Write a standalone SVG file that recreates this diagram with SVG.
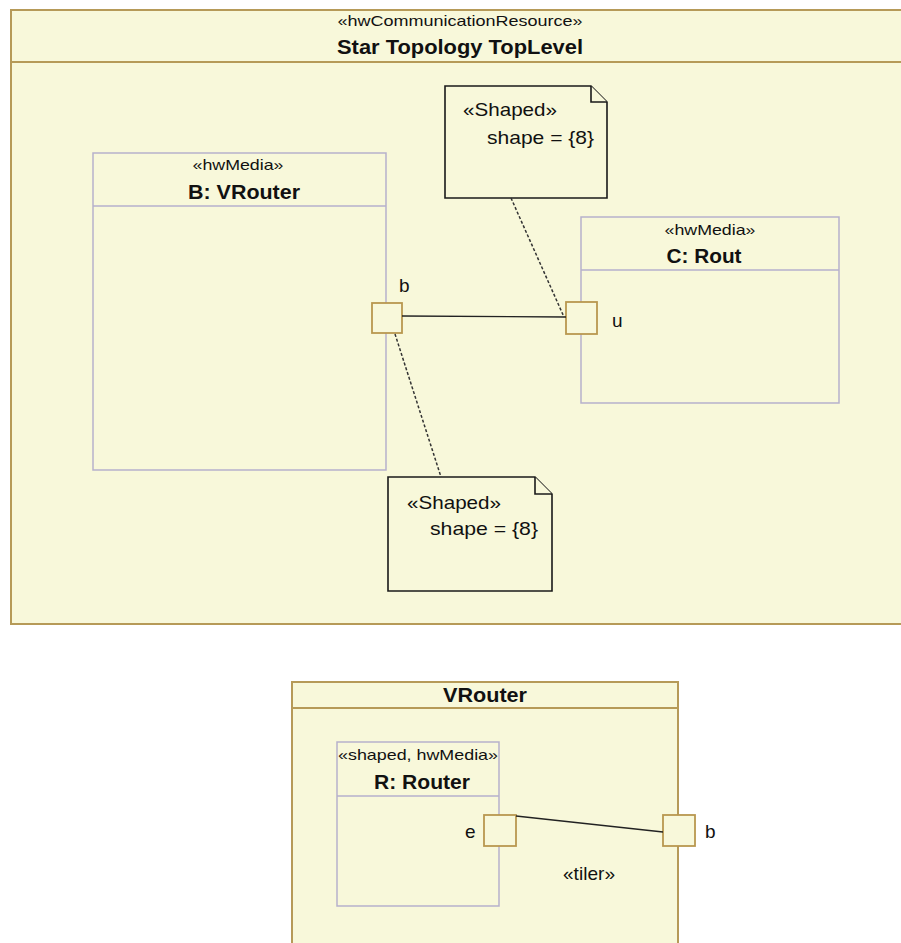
<svg xmlns="http://www.w3.org/2000/svg" width="901" height="943" viewBox="0 0 901 943">
<style>
text{font-family:"Liberation Sans",Arial,sans-serif;fill:#111;}
.st{font-size:15px;}
.tt{font-size:20px;font-weight:bold;}
.lb{font-size:19px;}
.frame{fill:#F8F8DA;stroke:#B69A58;stroke-width:2;}
.fline{stroke:#B69A58;stroke-width:2;}
.part{fill:#F8F8DA;stroke:#B6B1CC;stroke-width:1.5;}
.pline{stroke:#B6B1CC;stroke-width:1.5;}
.port{fill:#F8F8DA;stroke:#B8974F;stroke-width:1.8;}
.note{fill:#F8F8DA;stroke:#1a1a1a;stroke-width:1.6;}
.conn{stroke:#222;stroke-width:1.4;fill:none;}
.dash{stroke:#333;stroke-width:1.5;stroke-dasharray:3,2;fill:none;}
</style>
<rect width="901" height="943" fill="#fff"/>

<g id="topFrame">
<rect class="frame" x="11" y="10" width="900" height="614"/>
<line class="fline" x1="11" y1="62" x2="901" y2="62"/>
<text class="st" x="460" y="26" text-anchor="middle" font-size="16" textLength="245" lengthAdjust="spacingAndGlyphs">«hwCommunicationResource»</text>
<text class="tt" x="460" y="54" text-anchor="middle" textLength="246" lengthAdjust="spacingAndGlyphs">Star Topology TopLevel</text>
</g>

<g id="partB">
<rect class="part" x="93" y="153" width="293" height="317"/>
<line class="pline" x1="93" y1="206" x2="386" y2="206"/>
<text class="st" x="238" y="170" text-anchor="middle" textLength="91" lengthAdjust="spacingAndGlyphs">«hwMedia»</text>
<text class="tt" x="244" y="199" text-anchor="middle" textLength="112" lengthAdjust="spacingAndGlyphs">B: VRouter</text>
</g>

<g id="partC">
<rect class="part" x="581" y="217" width="258" height="186"/>
<line class="pline" x1="581" y1="270" x2="839" y2="270"/>
<text class="st" x="710" y="235" text-anchor="middle" textLength="91" lengthAdjust="spacingAndGlyphs">«hwMedia»</text>
<text class="tt" x="704" y="263" text-anchor="middle" textLength="75" lengthAdjust="spacingAndGlyphs">C: Rout</text>
</g>

<g id="noteTop">
<path class="note" d="M445,86 H591 L607,102 V198 H445 Z"/>
<path class="note" d="M591,86 V102 H607" fill="none"/>
<text class="lb" x="463" y="116" textLength="94" lengthAdjust="spacingAndGlyphs">«Shaped»</text>
<text class="lb" x="487" y="144" textLength="107" lengthAdjust="spacingAndGlyphs">shape = {8}</text>
</g>

<g id="noteBottom">
<path class="note" d="M388,477 H535 L552,494 V591 H388 Z"/>
<path class="note" d="M535,477 V494 H552" fill="none"/>
<text class="lb" x="407" y="509" textLength="94" lengthAdjust="spacingAndGlyphs">«Shaped»</text>
<text class="lb" x="430" y="535" textLength="108" lengthAdjust="spacingAndGlyphs">shape = {8}</text>
</g>

<g id="portB">
<rect class="port" x="372" y="303" width="30" height="30"/>
<text class="lb" x="399" y="292">b</text>
</g>

<g id="portU">
<rect class="port" x="566" y="302" width="31" height="32"/>
<text class="lb" x="612" y="327">u</text>
</g>

<g id="bottomFrame">
<rect class="frame" x="292" y="682" width="386" height="300"/>
<line class="fline" x1="292" y1="708" x2="678" y2="708"/>
<text class="tt" x="485" y="702" text-anchor="middle" textLength="84" lengthAdjust="spacingAndGlyphs">VRouter</text>
<text class="lb" x="589" y="880" text-anchor="middle" textLength="52" lengthAdjust="spacingAndGlyphs">«tiler»</text>
</g>

<g id="partR">
<rect class="part" x="337" y="742" width="162" height="164"/>
<line class="pline" x1="337" y1="796" x2="499" y2="796"/>
<text class="st" x="418" y="760" text-anchor="middle" textLength="160" lengthAdjust="spacingAndGlyphs">«shaped, hwMedia»</text>
<text class="tt" x="422" y="789" text-anchor="middle" textLength="96" lengthAdjust="spacingAndGlyphs">R: Router</text>
</g>

<g id="portE">
<rect class="port" x="484" y="815" width="32" height="31"/>
<text class="lb" x="465" y="838">e</text>
</g>

<g id="portBR">
<rect class="port" x="663" y="815" width="32" height="31"/>
<text class="lb" x="705" y="838">b</text>
</g>

<g id="connectors">
<line class="conn" x1="402" y1="316" x2="566" y2="317"/>
<line class="dash" x1="511" y1="198" x2="564" y2="317"/>
<line class="dash" x1="395" y1="334" x2="441" y2="477"/>
<line class="conn" x1="516" y1="816" x2="663" y2="832"/>
</g>
</svg>
